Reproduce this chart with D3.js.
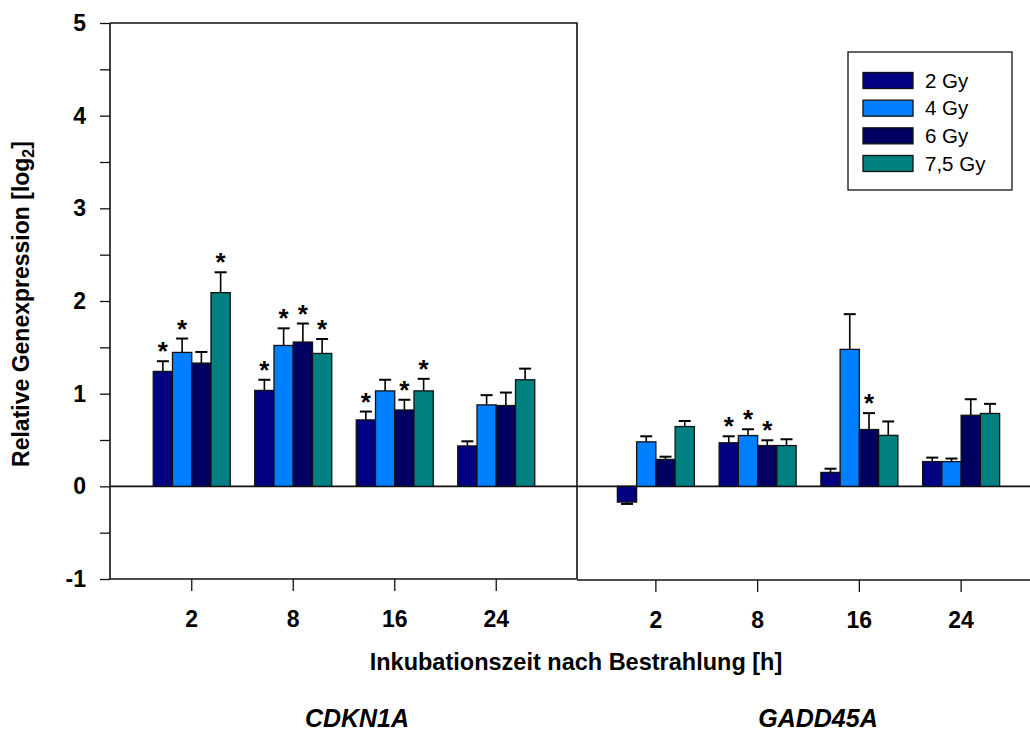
<!DOCTYPE html>
<html>
<head>
<meta charset="utf-8">
<script src="https://cdn.jsdelivr.net/npm/d3@7"></script>
<style>
  html, body { margin: 0; padding: 0; background: #fff; }
  svg { display: block; font-family: "Liberation Sans", Arial, sans-serif; }
</style>
</head>
<body>
<svg id="chart" width="1030" height="731"></svg>
<script>
// ---------------- data ----------------
const times = ["2", "8", "16", "24"];
const doses = ["2 Gy", "4 Gy", "6 Gy", "7,5 Gy"];
const doseColors = ["#000080", "#0080FF", "#000060", "#008080"];
const yTicks = [-1, 0, 1, 2, 3, 4, 5];
const yMinorTicks = [-0.5, 0.5, 1.5, 2.5, 3.5, 4.5];

// CDKN1A: rows = times, columns = doses
const cdkn1aMeans = [
  [1.24, 1.445, 1.33, 2.09],
  [1.035, 1.52, 1.557, 1.434],
  [0.717, 1.03, 0.824, 1.03],
  [0.436, 0.879, 0.872, 1.15]
];
const cdkn1aErr = [
  [0.11, 0.15, 0.12, 0.22],
  [0.115, 0.185, 0.2, 0.156],
  [0.09, 0.12, 0.11, 0.13],
  [0.05, 0.105, 0.14, 0.12]
];
const cdkn1aSig = [
  [1, 1, 0, 1],
  [1, 1, 1, 1],
  [1, 0, 1, 1],
  [0, 0, 0, 0]
];

// GADD45A
const gadd45aMeans = [
  [-0.17, 0.48, 0.29, 0.645],
  [0.47, 0.548, 0.44, 0.44],
  [0.15, 1.478, 0.613, 0.55],
  [0.267, 0.267, 0.767, 0.786]
];
const gadd45aErr = [
  [0.02, 0.06, 0.03, 0.06],
  [0.07, 0.068, 0.057, 0.068],
  [0.04, 0.38, 0.177, 0.15],
  [0.043, 0.033, 0.173, 0.104]
];
const gadd45aSig = [
  [0, 0, 0, 0],
  [1, 1, 1, 0],
  [0, 0, 1, 0],
  [0, 0, 0, 0]
];

// ---------------- layout ----------------
const svg = d3.select("#chart");
const FONT = '"Liberation Sans", Arial, sans-serif';
const axisX = 110, dividerX = 577, rightEnd = 1030;
const yTop = 23, yBottom = 579;

const y = d3.scaleLinear().domain([-1, 5]).range([yBottom, yTop]);
const color = d3.scaleOrdinal().domain(doses).range(doseColors);

const panels = [
  { name: "CDKN1A", means: cdkn1aMeans, errs: cdkn1aErr, sig: cdkn1aSig,
    x: d3.scaleBand().domain(times).range([141, 547]),
    x0: axisX, x1: dividerX, axisY: yBottom, labelX: 357 },
  { name: "GADD45A", means: gadd45aMeans, errs: gadd45aErr, sig: gadd45aSig,
    x: d3.scaleBand().domain(times).range([605, 1012]),
    x0: dividerX, x1: rightEnd, axisY: yBottom + 1, labelX: 818 }
];

const groupHalf = 38.5;
const inner = d3.scaleBand().domain(doses).range([-groupHalf, groupHalf]);

// left panel frame (top + right border)
svg.append("path")
  .attr("d", `M${axisX},${yTop}H${dividerX}V${yBottom}`)
  .attr("fill", "none").attr("stroke", "#111").attr("stroke-width", 1.6);

panels.forEach(p => {
  const g = svg.append("g");
  // zero line
  g.append("line")
    .attr("x1", p.x0).attr("x2", p.x1)
    .attr("y1", y(0)).attr("y2", y(0))
    .attr("stroke", "#111").attr("stroke-width", 1.6);

  times.forEach((t, ti) => {
    const cx = p.x(t) + p.x.bandwidth() / 2;
    doses.forEach((d, di) => {
      const v = p.means[ti][di];
      const e = p.errs[ti][di];
      const bx = cx + inner(d);
      const bw = inner.bandwidth();
      const ve = v >= 0 ? v + e : v - e;
      const ex = bx + bw / 2;
      g.append("line")
        .attr("x1", ex).attr("x2", ex)
        .attr("y1", y(v)).attr("y2", y(ve))
        .attr("stroke", "#000").attr("stroke-width", 1.6);
      g.append("line")
        .attr("x1", ex - 6).attr("x2", ex + 6)
        .attr("y1", y(ve)).attr("y2", y(ve))
        .attr("stroke", "#000").attr("stroke-width", 2);
      g.append("rect")
        .attr("x", bx).attr("width", bw)
        .attr("y", Math.min(y(v), y(0)))
        .attr("height", Math.abs(y(v) - y(0)))
        .attr("fill", color(d))
        .attr("stroke", "#111").attr("stroke-width", 1.3);
      if (p.sig[ti][di]) {
        g.append("text")
          .attr("x", ex).attr("y", y(ve) - 1)
          .attr("text-anchor", "middle")
          .attr("font-family", FONT).attr("font-weight", "bold")
          .attr("font-size", 26).attr("fill", "#000")
          .text("*");
      }
    });
  });

  // bottom axis
  const ax = g.append("g")
    .attr("transform", `translate(0,${p.axisY})`);
  ax.append("line")
    .attr("x1", p.x0).attr("x2", p.x1)
    .attr("stroke", "#111").attr("stroke-width", 1.6);
  const xAxis = d3.axisBottom(p.x).tickSize(12).tickSizeOuter(0).tickPadding(20);
  const axG = ax.append("g").call(xAxis);
  axG.select(".domain").remove();
  axG.selectAll(".tick line").attr("stroke", "#111").attr("stroke-width", 1.3);
  axG.selectAll(".tick text")
    .attr("font-family", FONT).attr("font-weight", "bold")
    .attr("font-size", 23).attr("fill", "#000");

  // gene label
  svg.append("text")
    .attr("x", p.labelX).attr("y", 727)
    .attr("text-anchor", "middle")
    .attr("font-family", FONT).attr("font-weight", "bold")
    .attr("font-style", "italic").attr("font-size", 25)
    .text(p.name);
});

// y axis
const yAxisG = svg.append("g").attr("transform", `translate(${axisX},0)`);
yAxisG.append("line").attr("y1", yTop).attr("y2", yBottom)
  .attr("stroke", "#111").attr("stroke-width", 1.6);
const yAx = yAxisG.append("g")
  .call(d3.axisLeft(y).tickValues(yTicks).tickSize(10).tickPadding(14)
    .tickFormat(d => String(d)));
yAx.select(".domain").remove();
yAx.selectAll(".tick line").attr("stroke", "#111").attr("stroke-width", 1.3);
yAx.selectAll(".tick text")
  .attr("font-family", FONT).attr("font-weight", "bold")
  .attr("font-size", 23).attr("fill", "#000");
const yMin = yAxisG.append("g")
  .call(d3.axisLeft(y).tickValues(yMinorTicks).tickSize(10).tickFormat(""));
yMin.select(".domain").remove();
yMin.selectAll(".tick line").attr("stroke", "#111").attr("stroke-width", 1.3);

// y title
const yt = svg.append("text")
  .attr("transform", "translate(29,304) rotate(-90)")
  .attr("text-anchor", "middle")
  .attr("font-family", FONT).attr("font-weight", "bold").attr("font-size", 23);
yt.append("tspan").text("Relative Genexpression [log");
yt.append("tspan").attr("font-size", 16).attr("dy", 5).text("2");
yt.append("tspan").attr("dy", -5).text("]");

// x title
svg.append("text")
  .attr("x", 576).attr("y", 670)
  .attr("text-anchor", "middle")
  .attr("font-family", FONT).attr("font-weight", "bold").attr("font-size", 23.5)
  .text("Inkubationszeit nach Bestrahlung [h]");

// legend
const leg = svg.append("g");
leg.append("rect").attr("x", 848).attr("y", 52).attr("width", 164).attr("height", 138)
  .attr("fill", "#fff").attr("stroke", "#111").attr("stroke-width", 1.3);
const legY = d3.scalePoint().domain(doses).range([80.5, 163.5]);
doses.forEach(d => {
  leg.append("rect").attr("x", 863).attr("y", legY(d) - 8).attr("width", 50).attr("height", 16)
    .attr("fill", color(d)).attr("stroke", "#111").attr("stroke-width", 1.3);
  leg.append("text").attr("x", 925).attr("y", legY(d) + 7)
    .attr("font-family", FONT).attr("font-size", 20.5).attr("fill", "#000")
    .text(d);
});
</script>
</body>
</html>
